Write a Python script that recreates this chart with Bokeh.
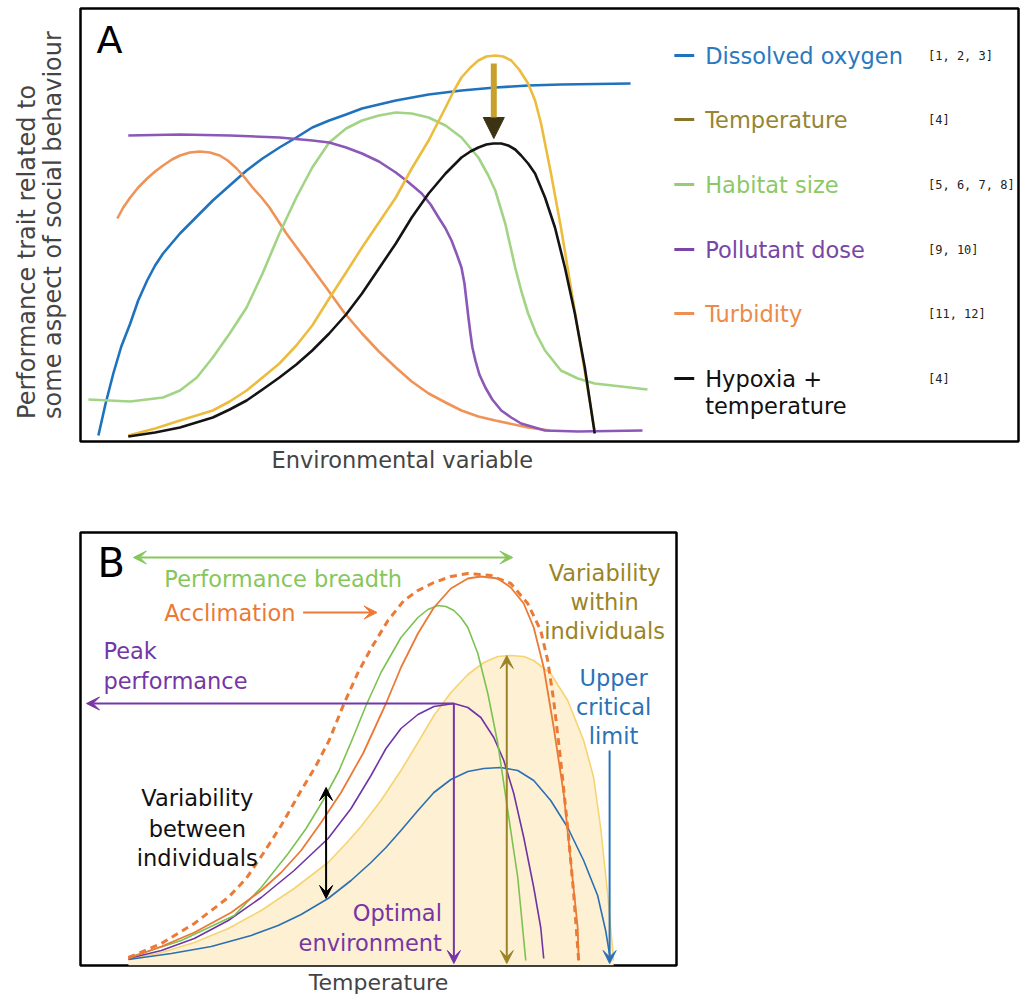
from bokeh.plotting import figure
from bokeh.layouts import column
from bokeh.models import Range1d, Title, Arrow, VeeHead, NormalHead
from bokeh.core.properties import value
from bokeh.embed import file_html
from bokeh.resources import INLINE

FONT = "DejaVu Sans"
MONO = "DejaVu Sans Mono"

# ---------------- Panel A data (environmental variable vs performance) ----------------
oxygen_x = [1.8, 2.5, 3.3, 4.1, 5.0, 5.8, 6.7, 7.5, 8.3, 10.0, 11.7, 13.3, 15.0, 16.7, 18.3, 20.0, 21.7, 23.3, 25.0, 26.7, 28.3, 30.0, 31.7, 35.0, 38.3, 41.7, 45.0, 48.3, 55.3]
oxygen_y = [1.5, 9.25, 17.0, 23.75, 29.5, 35.25, 40.25, 44.0, 47.0, 52.0, 56.25, 60.25, 64.0, 67.75, 70.75, 73.5, 76.0, 78.5, 80.25, 81.75, 83.25, 84.25, 85.25, 86.75, 87.75, 88.5, 89.0, 89.25, 89.5]

turbidity_x = [3.7, 4.3, 5.0, 5.8, 6.7, 7.5, 8.3, 9.2, 10.0, 11.0, 12.0, 13.0, 14.0, 14.8, 15.7, 16.5, 17.3, 18.2, 19.0, 20.7, 22.7, 24.7, 26.5, 28.3, 30.0, 31.7, 33.3, 35.0, 36.7, 38.3, 40.0, 41.7, 45.0, 47.2]
turbidity_y = [55.75, 58.5, 61.0, 63.5, 65.75, 67.5, 69.0, 70.5, 71.5, 72.25, 72.5, 72.25, 71.5, 70.25, 68.25, 66.0, 63.5, 61.0, 58.5, 52.0, 45.25, 38.5, 32.25, 27.0, 22.5, 18.5, 15.0, 12.0, 9.75, 7.75, 6.25, 5.25, 3.5, 2.75]

pollutant_x = [4.8, 10.0, 15.0, 20.0, 23.3, 25.0, 26.7, 28.3, 30.0, 31.7, 33.0, 34.3, 35.2, 36.0, 36.7, 37.3, 37.8, 38.3, 38.6, 38.8, 39.0, 39.2, 39.4, 39.7, 40.1, 40.7, 41.4, 42.3, 43.3, 44.3, 46.7, 50.0, 56.5]
pollutant_y = [76.5, 76.75, 76.5, 76.0, 75.25, 74.75, 73.5, 72.0, 70.0, 67.25, 64.75, 62.0, 59.25, 56.0, 53.25, 50.25, 47.0, 43.5, 39.5, 35.25, 31.0, 27.0, 23.5, 20.25, 16.75, 13.5, 10.5, 7.75, 6.0, 4.5, 2.75, 2.5, 2.75]

habitat_x = [0.8, 5.0, 8.3, 10.0, 11.7, 13.3, 15.0, 16.7, 18.3, 20.0, 21.7, 23.3, 25.0, 26.7, 28.3, 30.0, 31.7, 33.3, 35.0, 36.7, 38.3, 40.0, 41.0, 41.7, 42.7, 43.7, 44.3, 45.0, 45.8, 46.7, 48.3, 50.0, 51.7, 57.0]
habitat_y = [10.5, 10.0, 11.0, 12.75, 16.0, 21.0, 27.0, 33.5, 42.0, 52.0, 61.0, 68.5, 74.75, 78.25, 80.25, 81.5, 82.25, 82.0, 81.0, 79.0, 76.0, 71.0, 66.5, 62.75, 54.5, 43.5, 37.75, 32.0, 27.0, 22.75, 17.75, 15.75, 14.5, 13.0]

temperature_x = [4.8, 7.5, 10.0, 13.3, 15.0, 16.7, 18.3, 20.0, 21.7, 23.3, 25.0, 26.7, 28.3, 30.0, 31.7, 33.3, 35.0, 36.7, 37.5, 38.3, 39.2, 40.0, 40.8, 41.7, 42.5, 43.3, 44.1, 45.0, 45.7, 46.3, 47.3, 48.3, 49.3, 50.3, 51.3, 51.7]
temperature_y = [1.5, 3.25, 5.25, 7.75, 10.0, 12.75, 16.0, 19.5, 24.0, 29.0, 35.75, 42.25, 48.5, 54.75, 61.0, 68.25, 75.25, 83.5, 87.5, 91.0, 93.5, 95.25, 96.25, 96.5, 96.25, 95.25, 93.0, 89.5, 85.25, 79.5, 67.0, 53.5, 38.5, 23.5, 8.5, 2.25]

hypoxia_x = [4.8, 7.5, 10.0, 13.3, 15.0, 16.7, 18.3, 20.0, 21.7, 23.3, 25.0, 26.7, 28.3, 30.0, 31.7, 33.3, 35.0, 36.7, 38.3, 39.2, 40.0, 40.8, 41.5, 42.3, 43.0, 43.7, 44.3, 45.0, 45.7, 46.7, 47.7, 48.7, 49.7, 50.7, 51.7]
hypoxia_y = [1.25, 2.25, 3.5, 6.0, 8.0, 10.25, 13.0, 16.0, 19.25, 22.75, 27.0, 31.75, 37.0, 43.25, 49.5, 56.0, 62.0, 67.0, 71.0, 72.5, 73.5, 74.25, 74.5, 74.5, 74.0, 73.0, 71.5, 69.5, 67.0, 61.0, 53.5, 43.5, 32.0, 18.5, 2.0]

legend_labels = ["Dissolved oxygen", "Temperature", "Habitat size", "Pollutant dose", "Turbidity", "Hypoxia +"]
legend_refs = ["[1, 2, 3]", "[4]", "[5, 6, 7, 8]", "[9, 10]", "[11, 12]", "[4]"]
legend_text_colors = ["#2b78bd", "#978434", "#8cc866", "#7846a6", "#ec8a4a", "#111111"]
legend_mark_colors = ["#1f72bd", "#8a742c", "#96cd72", "#7a45a8", "#ee8f55", "#111111"]
legend_y = [96.5, 80.5, 64.25, 48.0, 32.0, 15.75]

# ---------------- Panel B data (thermal performance curves) ----------------
popul_x = [4.8, 8.1, 11.4, 14.8, 18.1, 21.4, 24.8, 26.6, 28.1, 30.1, 32.1, 33.8, 35.4, 37.1, 38.8, 40.4, 41.8, 43.1, 44.4, 45.4, 47.1, 48.8, 50.4, 51.4, 52.1, 52.8, 53.4]
popul_y = [1.5, 3.25, 5.75, 9.25, 13.75, 19.25, 25.75, 30.5, 34.75, 41.25, 48.75, 55.75, 62.5, 68.25, 72.75, 75.75, 77.25, 77.5, 77.25, 76.25, 73.0, 66.25, 56.25, 47.0, 34.5, 18.0, 1.25]

blue_x = [4.8, 9.1, 13.1, 17.1, 19.8, 22.1, 24.8, 27.1, 29.1, 30.6, 32.1, 33.8, 35.4, 37.1, 38.8, 40.4, 42.1, 43.8, 45.4, 47.1, 48.8, 50.4, 51.8, 52.6, 53.1]
blue_y = [1.5, 3.0, 4.75, 7.5, 10.0, 12.75, 16.75, 21.25, 25.75, 29.5, 33.75, 38.75, 43.25, 46.5, 48.5, 49.25, 49.5, 48.75, 46.25, 41.25, 34.5, 26.25, 17.5, 8.75, 1.25]

purple_x = [4.8, 8.1, 11.4, 14.8, 18.1, 21.4, 24.8, 27.1, 29.1, 30.6, 32.1, 33.8, 35.4, 37.4, 38.8, 40.1, 41.4, 42.4, 43.4, 44.4, 45.4, 46.1, 46.4]
purple_y = [1.75, 3.75, 6.75, 11.25, 17.0, 23.75, 31.75, 39.25, 47.5, 54.25, 59.25, 62.75, 64.75, 65.5, 64.5, 62.0, 57.0, 51.25, 43.0, 32.0, 19.5, 9.5, 1.75]

green_x = [4.8, 10.1, 15.4, 18.1, 20.8, 22.6, 24.3, 25.9, 27.3, 28.6, 30.1, 32.1, 33.8, 34.8, 35.8, 36.6, 37.4, 38.1, 38.8, 39.8, 40.8, 41.8, 42.8, 43.8, 44.6]
green_y = [2.0, 6.25, 12.5, 19.5, 28.0, 34.25, 41.25, 48.75, 57.0, 65.0, 73.25, 82.0, 87.0, 89.0, 90.0, 89.75, 88.75, 87.0, 84.5, 78.0, 68.0, 55.5, 38.75, 22.0, 1.25]

orange_x = [4.8, 8.1, 11.4, 15.1, 18.1, 20.1, 22.1, 24.1, 26.1, 28.3, 30.6, 32.1, 33.8, 35.4, 37.1, 38.8, 40.1, 41.8, 43.1, 44.4, 45.4, 46.4, 47.4, 48.4, 49.1, 49.8, 49.9]
orange_y = [1.75, 4.75, 8.25, 13.25, 18.75, 23.25, 28.75, 35.75, 43.25, 53.0, 65.5, 74.5, 83.0, 89.5, 94.25, 96.75, 97.25, 96.75, 94.5, 90.5, 84.5, 74.5, 59.5, 43.0, 26.25, 9.5, 1.25]

acclim_x = [4.8, 8.1, 11.4, 14.8, 16.6, 18.3, 20.1, 22.1, 23.6, 24.9, 26.4, 27.8, 29.1, 30.8, 32.4, 33.8, 35.4, 37.1, 38.8, 41.1, 43.1, 44.8, 46.1, 46.8, 47.4, 48.1, 48.8, 49.4, 49.9]
acclim_y = [2.0, 5.5, 10.5, 17.0, 21.75, 28.0, 35.0, 43.75, 50.0, 56.25, 65.5, 73.25, 79.25, 86.25, 91.25, 93.75, 95.75, 97.25, 98.0, 97.5, 95.5, 90.5, 83.75, 76.25, 66.25, 51.25, 34.5, 18.0, 1.25]

# ---------------- Panel A ----------------
pA = figure(width=1023, height=498, output_backend="svg", toolbar_location=None,
            x_range=Range1d(0, 94.3), y_range=Range1d(0, 108.25),
            x_axis_location=None, y_axis_location=None,
            min_border_left=80, min_border_right=0, min_border_top=8, min_border_bottom=57)
pA.grid.visible = False
pA.outline_line_color = "black"
pA.outline_line_width = 2.5
pA.background_fill_color = "white"
pA.border_fill_color = "white"

pA.add_layout(Title(text="Performance trait related to\nsome aspect of social behaviour",
                    text_font=FONT, text_font_size="24px", text_line_height=0.95,
                    text_font_style="normal", align="center", vertical_align="top", standoff=22), "left")
pA.add_layout(Title(text="Environmental variable", text_font=FONT, text_font_size="22.5px",
                    text_font_style="normal", align="left", offset=191, vertical_align="middle", standoff=9), "below")

lwA = 2.6
pA.line(oxygen_x, oxygen_y, line_color="#1f72bd", line_width=lwA, line_join="round")
pA.line(turbidity_x, turbidity_y, line_color="#ef9357", line_width=lwA, line_join="round")
pA.line(habitat_x, habitat_y, line_color="#a2d485", line_width=lwA, line_join="round")
pA.line(pollutant_x, pollutant_y, line_color="#8b58b8", line_width=lwA, line_join="round")
pA.line(temperature_x, temperature_y, line_color="#ecbc3e", line_width=lwA, line_join="round")
pA.line(hypoxia_x, hypoxia_y, line_color="#141414", line_width=lwA, line_join="round")

pA.add_layout(Arrow(x_start=41.55, y_start=94.5, x_end=41.55, y_end=75.75,
                    line_color="#c8a12c", line_width=6,
                    end=NormalHead(size=21, fill_color="#3b3314", line_color="#3b3314")))

pA.text(x=[1.6], y=[100.5], text=["A"], text_font=value(FONT), text_font_size="38px",
        text_baseline="middle", text_align="left", text_color="black")

pA.segment(x0=[59.7] * 6, x1=[61.7] * 6, y0=legend_y, y1=legend_y,
           line_color=legend_mark_colors, line_width=3)
pA.text(x=[62.8] * 6, y=legend_y, text=legend_labels, text_color=legend_text_colors,
        text_font=value(FONT), text_font_size="22.5px", text_baseline="middle", text_align="left")
pA.text(x=[62.8], y=[9.0], text=["temperature"], text_color="#111111",
        text_font=value(FONT), text_font_size="22.5px", text_baseline="middle", text_align="left")
pA.text(x=[85.2] * 6, y=legend_y, text=legend_refs, text_color="#222222",
        text_font=value(MONO), text_font_size="12px", text_baseline="middle", text_align="left")

# ---------------- Panel B ----------------
pB = figure(width=681, height=500, output_backend="svg", toolbar_location=None,
            x_range=Range1d(0, 59.7), y_range=Range1d(0, 108.25),
            x_axis_location=None, y_axis_location=None,
            min_border_left=79, min_border_right=5, min_border_top=34, min_border_bottom=33)
pB.grid.visible = False
pB.outline_line_color = "black"
pB.outline_line_width = 2.5
pB.background_fill_color = "white"
pB.border_fill_color = "white"
pB.add_layout(Title(text="Temperature", text_font=FONT, text_font_size="22px",
                    text_font_style="normal", align="center", vertical_align="middle", standoff=6), "below")

pB.varea(x=popul_x, y1=[0] * len(popul_x), y2=popul_y, fill_color="#fdf0d3")
pB.line(popul_x, popul_y, line_color="#f6d472", line_width=1.6, line_join="round")
pB.line(blue_x, blue_y, line_color="#2c6fb3", line_width=1.6, line_join="round")
pB.line(purple_x, purple_y, line_color="#6f35a5", line_width=1.6, line_join="round")
pB.line(green_x, green_y, line_color="#7cc250", line_width=1.6, line_join="round")
pB.line(orange_x, orange_y, line_color="#ea7a35", line_width=1.8, line_join="round")
pB.line(acclim_x, acclim_y, line_color="#ea7a35", line_width=3, line_dash="7 5")


def arrow(fig, x0, y0, x1, y1, color, both=False, lw=2, size=13):
    head = VeeHead(size=size, fill_color=color, line_color=color, line_width=1)
    start = VeeHead(size=size, fill_color=color, line_color=color, line_width=1) if both else None
    fig.add_layout(Arrow(x_start=x0, y_start=y0, x_end=x1, y_end=y1, line_color=color,
                         line_width=lw, end=head, start=start))


arrow(pB, 5.3, 102.0, 43.3, 102.0, "#86c75a", both=True)
arrow(pB, 22.3, 88.25, 29.7, 88.25, "#ea7a35")
arrow(pB, 37.4, 65.5, 0.6, 65.5, "#7636a6")
arrow(pB, 37.4, 65.5, 37.4, 0.5, "#7636a6")
arrow(pB, 24.6, 44.5, 24.6, 16.75, "#000000", both=True)
arrow(pB, 42.7, 77.5, 42.7, 0.5, "#9a8426", both=True)
arrow(pB, 53.0, 53.75, 53.0, 0.5, "#2a72b8")

pB.text(x=[1.7], y=[100.75], text=["B"], text_font=value(FONT), text_font_size="40px",
        text_baseline="middle", text_align="left", text_color="black")

TS = "22.5px"
pB.text(x=[8.4], y=[96.75], text=["Performance breadth"], text_color="#86c75a",
        text_font=value(FONT), text_font_size=TS, text_baseline="middle", text_align="left")
pB.text(x=[8.4], y=[88.25], text=["Acclimation"], text_color="#ea7a35",
        text_font=value(FONT), text_font_size=TS, text_baseline="middle", text_align="left")
pB.text(x=[2.3, 2.3], y=[78.75, 71.25], text=["Peak", "performance"], text_color="#7636a6",
        text_font=value(FONT), text_font_size=TS, text_baseline="middle", text_align="left")
pB.text(x=[11.7] * 3, y=[42.0, 34.25, 27.0], text=["Variability", "between", "individuals"],
        text_color="#111111", text_font=value(FONT), text_font_size=TS,
        text_baseline="middle", text_align="center")
pB.text(x=[36.2] * 2, y=[13.25, 5.75], text=["Optimal", "environment"], text_color="#7636a6",
        text_font=value(FONT), text_font_size=TS, text_baseline="middle", text_align="right")
pB.text(x=[52.5] * 3, y=[98.25, 91.0, 83.75], text=["Variability", "within", "individuals"],
        text_color="#9a8426", text_font=value(FONT), text_font_size=TS,
        text_baseline="middle", text_align="center")
pB.text(x=[53.4] * 3, y=[72.0, 64.75, 57.5], text=["Upper", "critical", "limit"],
        text_color="#2a72b8", text_font=value(FONT), text_font_size=TS,
        text_baseline="middle", text_align="center")

layout = column(pA, pB, spacing=0)
open("out.html", "w").write(file_html(layout, INLINE))
